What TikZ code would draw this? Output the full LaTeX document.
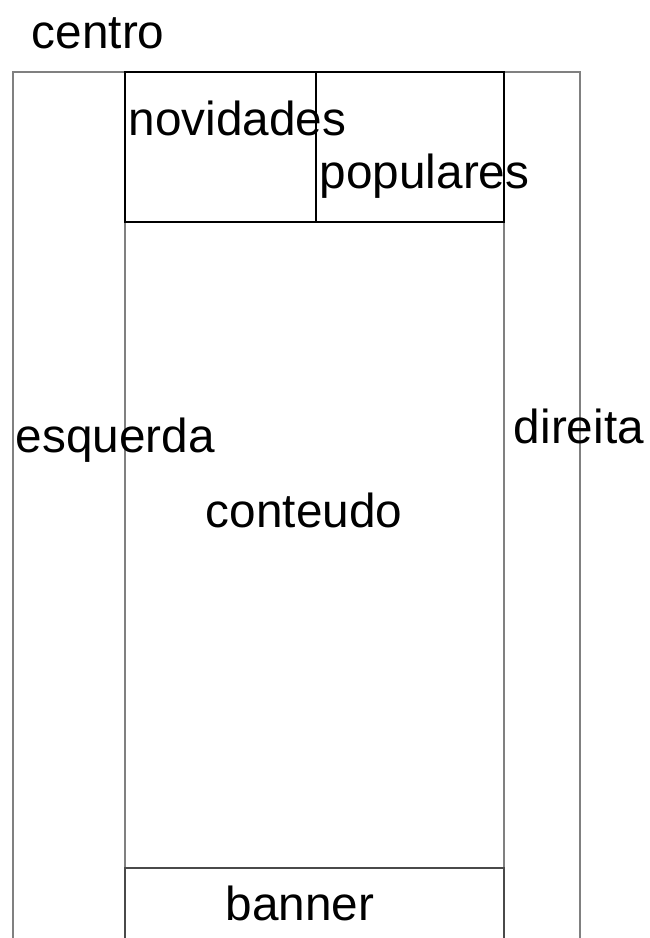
\documentclass[tikz,border=0pt]{standalone}
\usepackage{fontspec}
\setmainfont{Liberation Sans}
\usepackage{tikz}

\definecolor{pagegray}{HTML}{808080}
\definecolor{bannergray}{HTML}{4A4A4A}

\begin{document}
\begin{tikzpicture}
  [x=1pt,y=-1pt,line width=1.8pt,
   every node/.style={anchor=base west,inner sep=0pt,font=\fontsize{47.7}{50}\selectfont}]
  \useasboundingbox (0,0) rectangle (649,938);
  \clip (0,0) rectangle (649,938);

  \coordinate (ob) at (13,950);
  \coordinate (ot) at (13,72);
  \coordinate (rt) at (580,72);
  \coordinate (rb) at (580,950);
  \coordinate (nl) at (125,222);
  \coordinate (nr) at (504,222);
  \coordinate (bl) at (125,868);
  \coordinate (br) at (504,868);
  \coordinate (blb) at (125,950);
  \coordinate (brb) at (504,950);

  \draw[pagegray] (ob) -- (ot) -- (rt) -- (rb);
  \foreach \from/\to in {nl/bl, nr/br}
    \draw[pagegray] (\from) -- (\to);
  \draw[bannergray] (blb) -- (bl) -- (br) -- (brb);

  \draw (125,72) rectangle (316,222);
  \draw (316,72) rectangle (504,222);

  \node (centro)    at (31,48)   {centro};
  \node (novidades) at (128,135) {novidades};
  \node (populares) at (319,188) {populares};
  \node (esquerda)  at (15,452)  {esquerda};
  \node (direita)   at (513,443) {direita};
  \node (conteudo)  at (205,527) {conteudo};
  \node (banner)    at (225,920) {banner};

\end{tikzpicture}
\end{document}
